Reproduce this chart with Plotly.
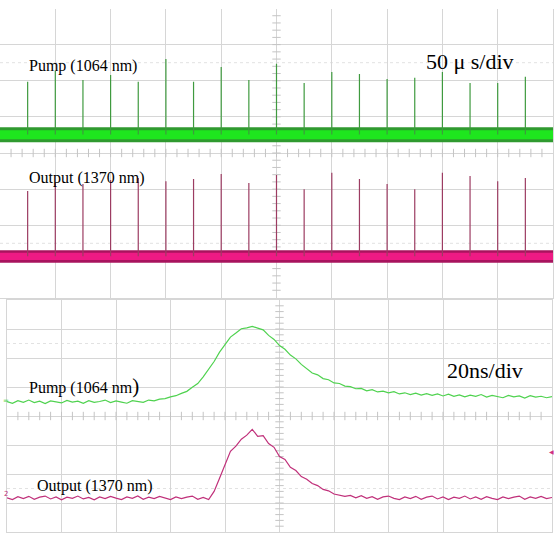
import plotly.graph_objects as go

W, H = 556, 536

# ---------------- data: top scope (50 us/div), amplitude in divisions ----------------
pulse_times_us = [-225, -200, -175, -150, -125, -100, -75, -50, -25, 0,
                  25, 50, 75, 100, 125, 150, 175, 200, 225]
pump_peaks_div = [1.97, 2.27, 2.02, 2.16, 1.97, 2.60, 1.97, 2.38, 2.02, 2.47,
                  1.94, 2.24, 2.19, 2.05, 2.08, 2.24, 1.94, 1.94, 2.11]
output_peaks_div = [-1.05, -0.83, -0.86, -0.75, -0.69, -0.78, -0.72, -0.58, -0.83, -0.61,
                    -1.00, -0.55, -0.72, -0.86, -1.00, -0.55, -0.64, -0.78, -0.69]
pump_base_div = 0.51
output_base_div = -2.86
pump_band_outer = [0.30, 0.71]
pump_band_core = [0.38, 0.63]
output_band_outer = [-3.04, -2.69]
output_band_core = [-2.96, -2.76]

# ---------------- data: bottom scope (20 ns/div) ----------------
sample_ns = list(range(0, 202, 2))
pump_pulse_div = [0.50, 0.44, 0.53, 0.47, 0.55, 0.46, 0.51, 0.43, 0.52, 0.49,
                  0.45, 0.54, 0.48, 0.51, 0.44, 0.53, 0.47, 0.50, 0.55, 0.46,
                  0.52, 0.48, 0.44, 0.53, 0.50, 0.47, 0.55, 0.52, 0.58, 0.60,
                  0.66, 0.70, 0.78, 0.85, 0.99, 1.12, 1.35, 1.60, 1.88, 2.20,
                  2.48, 2.72, 2.86, 3.01, 3.04, 3.09, 3.03, 2.97, 2.78, 2.64,
                  2.43, 2.30, 2.10, 1.97, 1.78, 1.64, 1.48, 1.42, 1.29, 1.25,
                  1.14, 1.12, 1.03, 1.01, 0.94, 0.95, 0.87, 0.91, 0.83, 0.86,
                  0.80, 0.84, 0.76, 0.80, 0.74, 0.79, 0.72, 0.77, 0.71, 0.76,
                  0.69, 0.75, 0.68, 0.73, 0.66, 0.72, 0.68, 0.74, 0.65, 0.71,
                  0.67, 0.63, 0.71, 0.66, 0.69, 0.62, 0.70, 0.65, 0.68, 0.63,
                  0.67]
output_pulse_div = [-2.82, -2.88, -2.78, -2.85, -2.77, -2.87, -2.80, -2.76, -2.86, -2.79,
                    -2.89, -2.80, -2.84, -2.76, -2.86, -2.81, -2.89, -2.79, -2.85, -2.77,
                    -2.83, -2.88, -2.79, -2.84, -2.76, -2.87, -2.80, -2.85, -2.77, -2.83,
                    -2.88, -2.79, -2.85, -2.80, -2.76, -2.87, -2.81, -2.88, -2.60, -2.15,
                    -1.70, -1.22, -1.04, -0.80, -0.66, -0.46, -0.70, -0.68, -0.95, -1.08,
                    -1.40, -1.50, -1.77, -1.88, -2.09, -2.18, -2.33, -2.40, -2.53, -2.58,
                    -2.69, -2.72, -2.77, -2.74, -2.82, -2.75, -2.84, -2.78, -2.87, -2.79,
                    -2.76, -2.84, -2.88, -2.79, -2.85, -2.77, -2.87, -2.80, -2.76, -2.86,
                    -2.79, -2.88, -2.80, -2.84, -2.76, -2.86, -2.79, -2.87, -2.78, -2.84,
                    -2.88, -2.79, -2.85, -2.80, -2.76, -2.87, -2.79, -2.84, -2.77, -2.85,
                    -2.81]

GRID = "#d6d6d6"
TICK = "#c4c4c4"
SERIF = "Liberation Serif"


def px(x):
    return x / W


def py(y):
    return 1 - y / H


fig = go.Figure()


# ---- centre-axis minor ticks (graticule), drawn first so traces sit on top ----
def graticule(xa, ya, xr):
    xdiv = (xr[1] - xr[0]) / 10
    xc = (xr[0] + xr[1]) / 2
    xt = [xr[0] + xdiv * k / 5 for k in range(1, 50)]
    yt = [-4 + k / 5 for k in range(1, 40)]
    fig.add_trace(go.Scatter(x=xt, y=[0] * len(xt), mode="markers",
                             marker=dict(symbol="line-ns", size=6, line=dict(color=TICK, width=1)),
                             xaxis=xa, yaxis=ya, hoverinfo="skip", showlegend=False))
    fig.add_trace(go.Scatter(x=[xc] * len(yt), y=yt, mode="markers",
                             marker=dict(symbol="line-ew", size=6, line=dict(color=TICK, width=1)),
                             xaxis=xa, yaxis=ya, hoverinfo="skip", showlegend=False))


graticule("x", "y", [-250, 250])
graticule("x2", "y2", [0, 200])

# ---- top scope ----
TX = [-250, 250]


def band(lo, hi, color, xa, ya):
    fig.add_trace(go.Scatter(x=TX, y=[lo, lo], mode="lines", line=dict(width=0),
                             xaxis=xa, yaxis=ya, hoverinfo="skip", showlegend=False))
    fig.add_trace(go.Scatter(x=TX, y=[hi, hi], mode="lines", line=dict(width=0),
                             fill="tonexty", fillcolor=color,
                             xaxis=xa, yaxis=ya, hoverinfo="skip", showlegend=False))


band(*pump_band_outer, "#2f9a2f", "x", "y")
band(*pump_band_core, "#1ee61e", "x", "y")
band(*output_band_outer, "#a8145e", "x", "y")
band(*output_band_core, "#ee1a84", "x", "y")


def spikes(times, peaks, base):
    xs, ys = [], []
    for t, p in zip(times, peaks):
        xs += [t, t, None]
        ys += [base, p, None]
    return xs, ys


sx, sy = spikes(pulse_times_us, pump_peaks_div, pump_base_div)
fig.add_trace(go.Scatter(x=sx, y=sy, mode="lines", line=dict(color="#3f9a3f", width=1.2),
                         xaxis="x", yaxis="y", hoverinfo="skip", showlegend=False))
sx, sy = spikes(pulse_times_us, output_peaks_div, output_base_div)
fig.add_trace(go.Scatter(x=sx, y=sy, mode="lines", line=dict(color="#9c3c62", width=1.2),
                         xaxis="x", yaxis="y", hoverinfo="skip", showlegend=False))

# ---- bottom scope ----
fig.add_trace(go.Scatter(x=sample_ns, y=pump_pulse_div, mode="lines",
                         line=dict(color="#4fd24f", width=1.2),
                         xaxis="x2", yaxis="y2", hoverinfo="skip", showlegend=False))
fig.add_trace(go.Scatter(x=sample_ns, y=output_pulse_div, mode="lines",
                         line=dict(color="#c0307a", width=1.2),
                         xaxis="x2", yaxis="y2", hoverinfo="skip", showlegend=False))

axis_common = dict(showticklabels=False, zeroline=False, ticks="", showgrid=True,
                   gridcolor=GRID, gridwidth=1, showline=True, linecolor=GRID,
                   linewidth=1, fixedrange=True)

fig.update_layout(
    width=W, height=H,
    margin=dict(l=0, r=0, t=0, b=0),
    paper_bgcolor="white", plot_bgcolor="white",
    showlegend=False,
    xaxis=dict(domain=[0, px(553)], range=[-250, 250], tickvals=list(range(-250, 251, 50)),
               anchor="y", mirror=False, **axis_common),
    yaxis=dict(domain=[py(297.5), py(8.5)], range=[-4, 4], tickvals=list(range(-3, 4)),
               anchor="x", mirror=True, **axis_common),
    xaxis2=dict(domain=[px(7), px(552)], range=[0, 200], tickvals=list(range(0, 201, 20)),
                anchor="y2", mirror=True, **axis_common),
    yaxis2=dict(domain=[py(532), py(300)], range=[-4, 4], tickvals=list(range(-4, 5)),
                anchor="x2", mirror=True, **axis_common),
)

# faint dotted reference lines
for yv, ax in [(2.5, "y"), (-2.5, "y"), (2.5, "y2"), (-2.5, "y2")]:
    xa = "x" if ax == "y" else "x2"
    fig.add_shape(type="line", xref=f"{xa} domain", yref=ax, x0=0, x1=1, y0=yv, y1=yv,
                  line=dict(color="#e2e2e2", width=1, dash="dot"), layer="below")

anns = [
    ("Pump (1064 nm)", 27, 66, 16),
    ("Output (1370 nm)", 27, 177.5, 16),
    ("50 \u03bc s/div", 424, 61, 22),
    ("Pump (1064 nm<span style='font-size:21px'>)</span>", 27, 386, 16),
    ("20ns/div", 445, 370, 22),
    ("Output (1370 nm)", 35, 486, 16),
]
for text, x, y, size in anns:
    fig.add_annotation(text=text, x=px(x), y=py(y), xref="paper", yref="paper",
                       xanchor="left", yanchor="middle", showarrow=False,
                       font=dict(family=SERIF, size=size, color="black"))

# small channel markers
fig.add_annotation(text="2", x=px(2), y=py(494), xref="paper", yref="paper",
                   xanchor="left", yanchor="middle", showarrow=False,
                   font=dict(family="DejaVu Sans", size=7, color="#c0307a"))
fig.add_annotation(text="=", x=px(1), y=py(401), xref="paper", yref="paper",
                   xanchor="left", yanchor="middle", showarrow=False,
                   font=dict(family="DejaVu Sans", size=7, color="#4fd24f"))
fig.add_annotation(text="\u25c0", x=px(556), y=py(451), xref="paper", yref="paper",
                   xanchor="right", yanchor="middle", showarrow=False,
                   font=dict(family="DejaVu Sans", size=6, color="#d03080"))

fig.write_html("out.html")
